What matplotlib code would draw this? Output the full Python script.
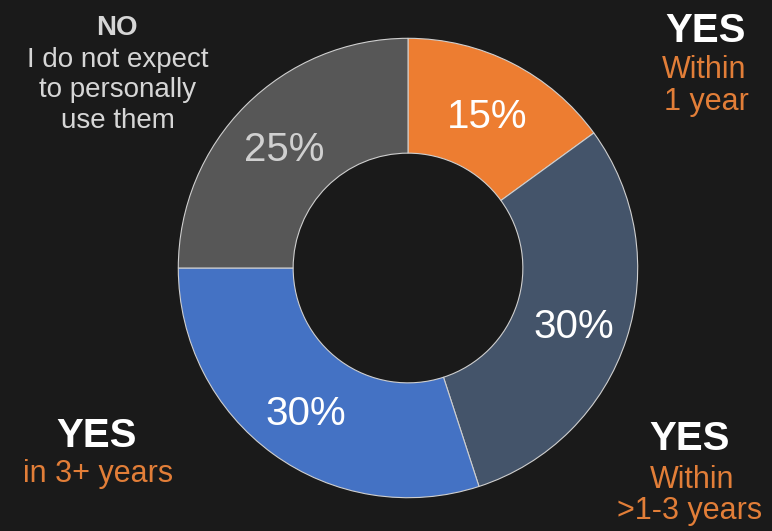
import matplotlib
matplotlib.use("Agg")
import matplotlib.pyplot as plt
import matplotlib.transforms as mtransforms

categories = ["YES Within 1 year", "YES Within >1-3 years", "YES in 3+ years", "NO"]
values = [15, 30, 30, 25]
colors = ["#ED7D31", "#44546A", "#4472C4", "#575757"]
pct_colors = ["#ffffff", "#ffffff", "#ffffff", "#d0d0d0"]

W, H = 772, 531
fig = plt.figure(figsize=(W / 100, H / 100), dpi=100)
fig.patch.set_facecolor("#1a1a1a")
plt.rcParams["font.family"] = ["Liberation Sans", "DejaVu Sans"]

cx, cy, R = 408, 268, 232
ax = fig.add_axes([(cx - R) / W, (H - cy - R) / H, 2 * R / W, 2 * R / H])
ax.set_facecolor("none")
wedges, texts, autotexts = ax.pie(
    values, colors=colors, startangle=90, counterclock=False,
    radius=1, autopct="%d%%", pctdistance=0.76,
    wedgeprops=dict(width=0.5, edgecolor="#cfcfcf", linewidth=0.8),
    textprops=dict(fontsize=29),
)
shift = mtransforms.offset_copy(ax.transData, fig=fig, x=0, y=-5, units="dots")
for t, c in zip(autotexts, pct_colors):
    t.set_color(c)
    t.set_transform(shift)
ax.set_xlim(-1.01, 1.01)
ax.set_ylim(-1.01, 1.01)
ax.set_aspect("equal")
ax.axis("off")

def ftxt(x, y, s, color, size, bold=False):
    fig.text(x / W, 1 - y / H, s, color=color, fontsize=size,
             fontweight="bold" if bold else "normal", ha="center", va="baseline")

orange = "#E27E38"
grey = "#d6d6d6"
# NO label (top-left)
ftxt(117, 35, "NO", grey, 20, True)
ftxt(118, 67, "I do not expect", grey, 20)
ftxt(118, 97, "to personally", grey, 20)
ftxt(118, 128, "use them", grey, 20)
# YES within 1 year (top-right)
ftxt(706, 42, "YES", "#ffffff", 29, True)
ftxt(704, 78, "Within", orange, 22)
ftxt(706, 110, "1 year", orange, 22)
# YES within >1-3 years (bottom-right)
ftxt(690, 450, "YES", "#ffffff", 29, True)
ftxt(692, 488, "Within", orange, 22)
ftxt(690, 519, ">1-3 years", orange, 22)
# YES in 3+ years (bottom-left)
ftxt(97, 447, "YES", "#ffffff", 29, True)
ftxt(98, 482, "in 3+ years", orange, 22)

fig.savefig("out.png", dpi=100, facecolor=fig.get_facecolor())
